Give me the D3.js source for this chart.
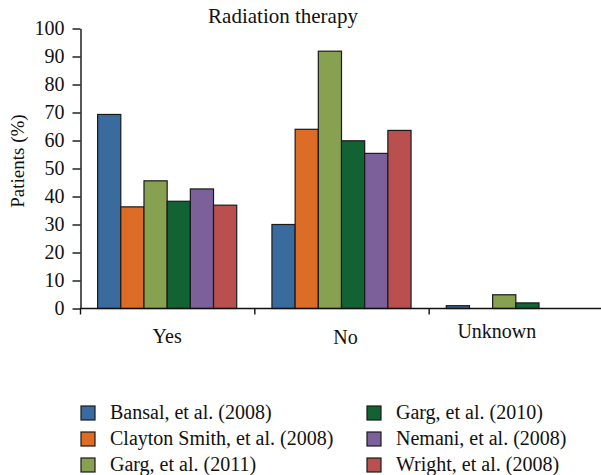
<!DOCTYPE html>
<html>
<head>
<meta charset="utf-8">
<script src="https://cdn.jsdelivr.net/npm/d3@7"></script>
<style>
  body { margin: 0; background: #fff; }
  svg text { font-family: "Liberation Serif", "Times New Roman", "DejaVu Serif", serif !important; fill: #111; }
</style>
</head>
<body>
<svg id="chart" width="601" height="475"></svg>
<script>
// categories on the x axis
const categories = ["Yes", "No", "Unknown"]
// one series per study
const studies = ["Bansal, et al. (2008)", "Clayton Smith, et al. (2008)", "Garg, et al. (2011)",
                 "Garg, et al. (2010)", "Nemani, et al. (2008)", "Wright, et al. (2008)"]
const colors = ["#3a6b9e", "#dd6d26", "#88a150", "#136233", "#7b6099", "#b94f4f"]
// values per study, in category order
const bansal   = [69.3, 30.0, 1.0]
const clayton  = [36.3, 64.0, 0]
const garg2011 = [45.6, 91.9, 4.9]
const garg2010 = [38.3, 59.9, 2.0]
const nemani   = [42.7, 55.4, 0]
const wright   = [36.9, 63.6, 0]
const yTicks = [0, 10, 20, 30, 40, 50, 60, 70, 80, 90, 100]

const series = [bansal, clayton, garg2011, garg2010, nemani, wright]
const serif = "'Liberation Serif', 'Times New Roman', 'DejaVu Serif', serif"

const svg = d3.select("#chart").attr("font-family", serif)

const x0 = d3.scaleBand().domain(categories).range([80, 603]).padding(0)
const x1 = d3.scaleBand().domain(d3.range(studies.length))
    .range([0, x0.bandwidth()]).paddingInner(0).paddingOuter(0.76)
const y = d3.scaleLinear().domain([0, 100]).range([308.5, 28.5])

// title
svg.append("text")
    .attr("x", 283).attr("y", 23)
    .attr("text-anchor", "middle")
    .attr("font-size", 21)
    .text("Radiation therapy")

// y axis label
svg.append("text")
    .attr("transform", "translate(24,161) rotate(-90)")
    .attr("text-anchor", "middle")
    .attr("font-size", 19)
    .text("Patients (%)")

// bars
const groups = svg.append("g")
  .selectAll("g")
  .data(categories)
  .join("g")
    .attr("transform", d => `translate(${x0(d)},0)`)

groups.selectAll("rect")
  .data((c, ci) => series.map((s, si) => ({si, v: s[ci]})).filter(d => d.v > 0))
  .join("rect")
    .attr("x", d => x1(d.si))
    .attr("y", d => y(d.v))
    .attr("width", x1.bandwidth())
    .attr("height", d => y(0) - y(d.v))
    .attr("fill", d => colors[d.si])
    .attr("stroke", "#1a1a1a")
    .attr("stroke-width", 1.2)

// y axis
const yAxis = svg.append("g")
    .attr("transform", "translate(80.5,0)")
    .call(d3.axisLeft(y).tickValues(yTicks).tickSize(8).tickSizeOuter(0).tickPadding(8))
yAxis.attr("font-family", serif)
yAxis.selectAll("text").attr("font-size", 20)
yAxis.selectAll("line, path").attr("stroke", "#111").attr("stroke-width", 1.4)

// x axis: ticks on the band boundaries
const xAxis = svg.append("g").attr("transform", "translate(0,308.5)")
xAxis.append("line")
    .attr("x1", 80).attr("x2", 601)
    .attr("stroke", "#111").attr("stroke-width", 1.4)
xAxis.selectAll("line.tick")
  .data(categories)
  .join("line")
    .attr("class", "tick")
    .attr("x1", d => x0(d) + 0.5).attr("x2", d => x0(d) + 0.5)
    .attr("y1", 0).attr("y2", 6)
    .attr("stroke", "#111").attr("stroke-width", 1.4)
const labelShift = {Yes: 0, No: 4, Unknown: -19}
const labelDrop = {Yes: 34, No: 35, Unknown: 29}
xAxis.selectAll("text")
  .data(categories)
  .join("text")
    .attr("x", d => x0(d) + x0.bandwidth() / 2 + labelShift[d])
    .attr("y", d => labelDrop[d])
    .attr("text-anchor", "middle")
    .attr("font-size", 20)
    .text(d => d)

// legend, two columns of three
const legend = svg.append("g")
  .selectAll("g")
  .data(studies)
  .join("g")
    .attr("transform", (d, i) => `translate(${i < 3 ? 81 : 367},${406 + (i % 3) * 26})`)
legend.append("rect")
    .attr("width", 14).attr("height", 14)
    .attr("fill", (d, i) => colors[i])
    .attr("stroke", "#1a1a1a").attr("stroke-width", 1.2)
legend.append("text")
    .attr("x", 29).attr("y", 13)
    .attr("font-size", 20)
    .text(d => d)
</script>
</body>
</html>
